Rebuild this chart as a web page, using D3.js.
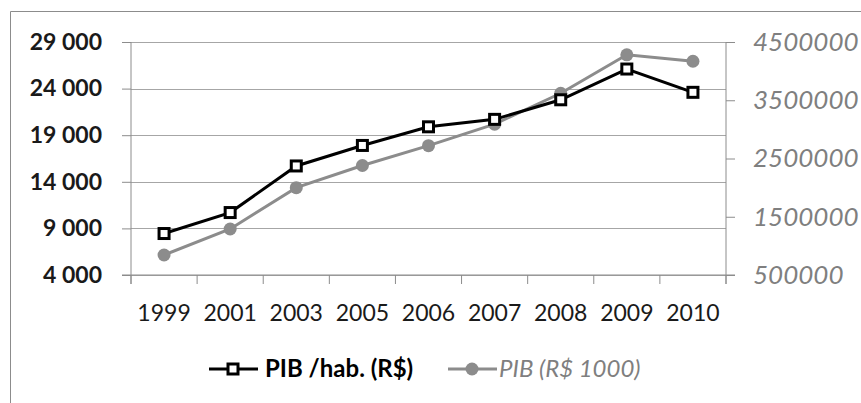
<!DOCTYPE html>
<html>
<head>
<meta charset="utf-8">
<script src="https://cdn.jsdelivr.net/npm/d3@7"></script>
<style>
  body { margin: 0; background: #fff; }
  text { font-family: Lato, "Open Sans", sans-serif; }
</style>
</head>
<body>
<div id="chart"></div>
<script>
// Data
const years = ['1999', '2001', '2003', '2005', '2006', '2007', '2008', '2009', '2010'];
const pibHab = [8450, 10700, 15700, 17900, 19900, 20700, 22800, 26100, 23600];
const pibTotal = [843000, 1290000, 2000000, 2380000, 2720000, 3090000, 3620000, 4280000, 4170000];
const leftTicks = [4000, 9000, 14000, 19000, 24000, 29000];
const rightTicks = [500000, 1500000, 2500000, 3500000, 4500000];
const seriesNames = ['PIB /hab. (R$)', 'PIB (R$ 1000)'];

const width = 861;
const height = 403;
const plotL = 131, plotR = 726, plotT = 42, plotB = 275;

const svg = d3.select('#chart')
  .append('svg')
  .attr('width', width)
  .attr('height', height);

// outer frame (only top and left edges are visible)
svg.append('path')
  .attr('d', `M10.5,${height} V11.5 H${width}`)
  .attr('fill', 'none')
  .attr('stroke', '#8c8c8c')
  .attr('stroke-width', 1);

// Scales
const x = d3.scaleBand()
  .domain(years)
  .range([plotL, plotR]);

const yL = d3.scaleLinear()
  .domain([4000, 29000])
  .range([plotB, plotT]);

const yR = d3.scaleLinear()
  .domain([500000, 4500000])
  .range([plotB, plotT]);

const fmtSpace = d => d3.format(',')(d).replace(/,/g, ' ');

// gridlines
svg.append('g')
  .attr('class', 'grid')
  .attr('transform', `translate(${plotL},0)`)
  .call(d3.axisLeft(yL).tickValues(leftTicks).tickSize(-(plotR - plotL)).tickFormat(''))
  .call(g => g.select('.domain').remove())
  .call(g => g.selectAll('line').attr('stroke', '#a6a6a6').attr('shape-rendering', 'crispEdges'));

// left axis
svg.append('g')
  .attr('class', 'y-axis')
  .attr('transform', `translate(${plotL},0)`)
  .call(d3.axisLeft(yL).tickValues(leftTicks).tickSize(9).tickSizeOuter(0).tickPadding(20).tickFormat(fmtSpace))
  .call(g => g.select('.domain').attr('stroke', '#8c8c8c').attr('d', `M0,${plotT}V${plotB + 9}`))
  .call(g => g.selectAll('line').attr('stroke', '#8c8c8c'))
  .call(g => g.selectAll('text')
    .attr('fill', '#1a1a1a')
    .attr('font-size', 23)
    .attr('font-weight', 'bold'));

// right axis
svg.append('g')
  .attr('class', 'y-axis-right')
  .attr('transform', `translate(${plotR},0)`)
  .call(d3.axisRight(yR).tickValues(rightTicks).tickSize(9).tickSizeOuter(0).tickPadding(18).tickFormat(d3.format('d')))
  .call(g => g.select('.domain').attr('stroke', '#8c8c8c').attr('d', `M0,${plotT}V${plotB + 9}`))
  .call(g => g.selectAll('line').attr('stroke', '#8c8c8c'))
  .call(g => g.selectAll('text')
    .attr('fill', '#7f7f7f')
    .attr('font-size', 26)
    .attr('font-style', 'italic'));

// bottom axis: labels at band centres, ticks at band edges
svg.append('g')
  .attr('class', 'x-axis')
  .attr('transform', `translate(0,${plotB})`)
  .call(d3.axisBottom(x).tickSize(0).tickPadding(30))
  .call(g => g.select('.domain').attr('stroke', '#8c8c8c').attr('d', `M${plotL - 9},0H${plotR + 9}`))
  .call(g => g.selectAll('text')
    .attr('fill', '#1a1a1a')
    .attr('font-size', 23));

svg.append('g')
  .selectAll('line')
  .data(years.map(d => x(d)).concat([x.range()[1]]))
  .enter()
  .append('line')
  .attr('x1', d => d).attr('x2', d => d)
  .attr('y1', plotB).attr('y2', plotB + 9)
  .attr('stroke', '#8c8c8c');

const cx = d => x(d) + x.bandwidth() / 2;

// PIB total (right axis)
svg.append('path')
  .datum(years)
  .attr('fill', 'none')
  .attr('stroke', '#8c8c8c')
  .attr('stroke-width', 3)
  .attr('d', d3.line().x(cx).y((d, i) => yR(pibTotal[i])));

svg.selectAll('.dot2')
  .data(years)
  .enter()
  .append('circle')
  .attr('class', 'dot2')
  .attr('cx', cx)
  .attr('cy', (d, i) => yR(pibTotal[i]))
  .attr('r', 6.5)
  .attr('fill', '#8c8c8c');

// PIB per capita (left axis)
svg.append('path')
  .datum(years)
  .attr('fill', 'none')
  .attr('stroke', '#000')
  .attr('stroke-width', 3)
  .attr('d', d3.line().x(cx).y((d, i) => yL(pibHab[i])));

svg.selectAll('.dot1')
  .data(years)
  .enter()
  .append('rect')
  .attr('class', 'dot1')
  .attr('x', d => cx(d) - 5)
  .attr('y', (d, i) => yL(pibHab[i]) - 5)
  .attr('width', 10)
  .attr('height', 10)
  .attr('fill', '#fff')
  .attr('stroke', '#000')
  .attr('stroke-width', 3);

// Legend
const legend = svg.append('g').attr('class', 'legend');
const ly = 369;

legend.append('line')
  .attr('x1', 209).attr('x2', 258).attr('y1', ly).attr('y2', ly)
  .attr('stroke', '#000').attr('stroke-width', 3);
legend.append('rect')
  .attr('x', 228).attr('y', ly - 5).attr('width', 10).attr('height', 10)
  .attr('fill', '#fff').attr('stroke', '#000').attr('stroke-width', 3);
legend.append('text')
  .attr('x', 265).attr('y', ly + 8)
  .attr('font-size', 24).attr('font-weight', 'bold').attr('fill', '#000')
  .text(seriesNames[0]);

legend.append('line')
  .attr('x1', 448).attr('x2', 497).attr('y1', ly).attr('y2', ly)
  .attr('stroke', '#8c8c8c').attr('stroke-width', 3);
legend.append('circle')
  .attr('cx', 472).attr('cy', ly).attr('r', 6.5)
  .attr('fill', '#8c8c8c');
legend.append('text')
  .attr('x', 499).attr('y', ly + 8)
  .attr('font-size', 24).attr('font-style', 'italic').attr('fill', '#7f7f7f')
  .text(seriesNames[1]);
</script>
</body>
</html>
